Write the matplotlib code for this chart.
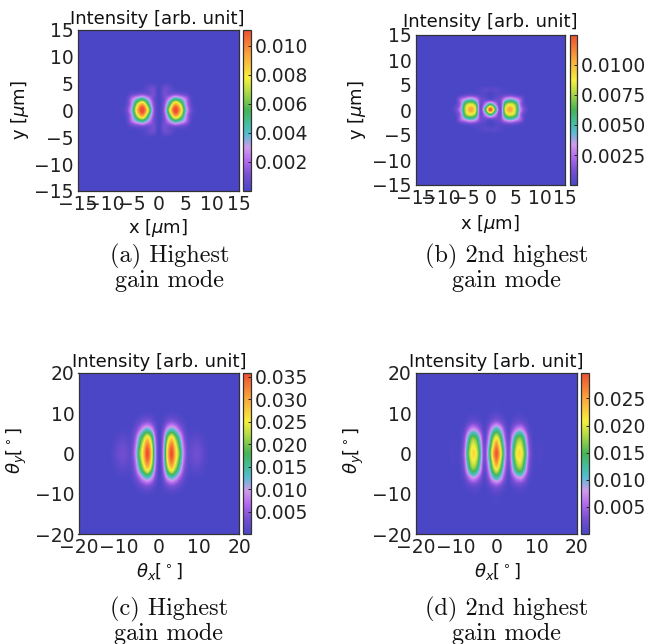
import numpy as np
import matplotlib
matplotlib.use("Agg")
import matplotlib.pyplot as plt
from matplotlib.colors import LinearSegmentedColormap

W, H = 645, 644
SCALE = 1e-4

# Quadrant intensities (units of 1e-4), rows y>=0, cols x>=0
near_highest = [
    [0, 18, 75, 114, 88, 36, 8, 1, 0],
    [0, 14, 55, 95, 72, 28, 5, 0, 0],
    [0, 10, 30, 50, 40, 22, 3, 0, 0],
    [0, 10, 8, 10, 8, 5, 0, 0, 0],
    [0, 8, 6, 1, 0, 0, 0, 0, 0],
    [0, 1, 1, 0, 0, 0, 0, 0, 0],
]
near_second = [
    [124, 60, 10, 85, 105, 78, 30, 8, 0],
    [60, 30, 10, 70, 85, 70, 22, 3, 0],
    [6, 8, 12, 35, 45, 35, 20, 1, 0],
    [0, 3, 4, 6, 7, 5, 2, 0, 0],
    [4, 5, 3, 1, 1, 0, 0, 0, 0],
    [0, 0, 0, 0, 0, 0, 0, 0, 0],
]
far_highest = [
    [0, 90, 270, 360, 275, 190, 80, 22, 22, 30, 26, 14, 4, 0],
    [0, 85, 250, 330, 255, 165, 68, 18, 18, 25, 20, 10, 3, 0],
    [0, 65, 195, 260, 200, 125, 48, 12, 10, 13, 10, 5, 1, 0],
    [0, 35, 100, 130, 105, 60, 24, 5, 3, 3, 3, 1, 0, 0],
    [0, 10, 30, 40, 32, 18, 7, 1, 0, 0, 0, 0, 0, 0],
    [0, 2, 4, 6, 5, 3, 1, 0, 0, 0, 0, 0, 0, 0],
    [0, 0, 0, 0, 0, 0, 0, 0, 0, 0, 0, 0, 0, 0],
]
far_second = [
    [292, 220, 100, 25, 120, 205, 215, 155, 50, 8, 3, 4, 2, 0],
    [265, 190, 85, 22, 105, 185, 200, 135, 42, 6, 3, 3, 1, 0],
    [205, 150, 62, 14, 80, 145, 160, 105, 30, 4, 2, 1, 0, 0],
    [120, 90, 36, 6, 36, 68, 78, 48, 12, 2, 0, 0, 0, 0],
    [38, 28, 11, 2, 9, 17, 18, 11, 3, 0, 0, 0, 0, 0],
    [8, 6, 2, 0, 1, 3, 3, 2, 0, 0, 0, 0, 0, 0],
    [3, 2, 1, 0, 0, 0, 0, 0, 0, 0, 0, 0, 0, 0],
]

near_ticks = [-15, -10, -5, 0, 5, 10, 15]
far_ticks_x = [-20, -10, 0, 10, 20]
far_ticks_y = [-20, -10, 0, 10, 20]
cbar_a = [0.002, 0.004, 0.006, 0.008, 0.010]
cbar_b = [0.0025, 0.0050, 0.0075, 0.0100]
cbar_c = [0.005, 0.010, 0.015, 0.020, 0.025, 0.030, 0.035]
cbar_d = [0.005, 0.010, 0.015, 0.020, 0.025]
captions = [
    "(a) Highest\ngain mode",
    "(b) 2nd highest\ngain mode",
    "(c) Highest\ngain mode",
    "(d) 2nd highest\ngain mode",
]

cmap = LinearSegmentedColormap.from_list("mode", [
    (0.00, "#4a46c6"), (0.10, "#7a50d4"), (0.19, "#b66cf0"), (0.27, "#cf9cec"),
    (0.35, "#58bbd4"), (0.42, "#45bd9c"), (0.50, "#45b455"), (0.62, "#b5dc45"),
    (0.70, "#f8f03c"), (0.85, "#f9a23c"), (1.00, "#ee4f30"),
])

plt.rcParams.update({
    "font.family": "DejaVu Sans", "font.size": 13, "axes.linewidth": 0.9,
    "axes.edgecolor": "#333333", "text.color": "#111111",
    "xtick.color": "#222222", "ytick.color": "#222222",
})

fig = plt.figure(figsize=(W / 100, H / 100), dpi=100)


def pix_axes(x0, x1, y0, y1):
    return fig.add_axes([x0 / W, 1 - y1 / H, (x1 - x0) / W, (y1 - y0) / H])


def unfold(quadrant):
    q = np.array(quadrant, float) * SCALE
    q = np.hstack([q[:, :0:-1], q])
    return np.vstack([q[:0:-1], q])


def panel(grid, dx, dy, lim, box, cbox, vmax, xt, yt, ct, cfmt, xlabel, ylabel,
          title_x, title_y, xl_pos, yl_pos, caption, cap_x, cap_y):
    ax = pix_axes(*box)
    z = unfold(grid)
    nx = (z.shape[1] - 1) // 2
    ny = (z.shape[0] - 1) // 2
    ax.set_facecolor(cmap(0.0))
    im = ax.imshow(z, origin="lower", cmap=cmap, vmin=0, vmax=vmax,
                   interpolation="catrom", aspect="auto",
                   extent=[-(nx + .5) * dx, (nx + .5) * dx,
                           -(ny + .5) * dy, (ny + .5) * dy])
    ax.set_xlim(-lim, lim)
    ax.set_ylim(-lim, lim)
    ax.set_xticks(xt)
    ax.set_yticks(yt)
    ax.tick_params(direction="in", length=0, labelsize=13.5, pad=3)
    cax = pix_axes(*cbox)
    cb = fig.colorbar(im, cax=cax)
    cb.set_ticks(ct)
    cb.set_ticklabels([cfmt % v for v in ct])
    cax.tick_params(direction="in", length=2.5, width=0.7, labelsize=13.5, pad=3)
    fig.text(title_x / W, 1 - title_y / H, "Intensity [arb. unit]", ha="center",
             va="baseline", fontsize=13)
    fig.text(xl_pos[0] / W, 1 - xl_pos[1] / H, xlabel, ha="center", va="center", fontsize=13)
    fig.text(yl_pos[0] / W, 1 - yl_pos[1] / H, ylabel, ha="center", va="center",
             rotation=90, fontsize=13)
    fig.text(cap_x / W, 1 - cap_y / H, caption, ha="center", va="center", family="cmr10",
             fontsize=17.5, linespacing=1.08)


panel(near_highest, 1, 1, 15, (78, 239, 29.5, 191), (243, 251, 29.5, 191), 0.0111,
      near_ticks, near_ticks, cbar_a, "%.3f", r"x [$\mu$m]", r"y [$\mu$m]",
      157.5, 24, (158, 228), (20, 110), captions[0], 169.5, 268)
panel(near_second, 1, 1, 15, (415.5, 565, 35, 185), (569.5, 577, 35, 185), 0.0125,
      near_ticks, near_ticks, cbar_b, "%.4f", r"x [$\mu$m]", r"y [$\mu$m]",
      490, 27, (490, 224), (357, 110), captions[1], 507, 268)
panel(far_highest, 1, 2, 20, (78.5, 239, 373, 534), (242.5, 251, 373, 534), 0.0358,
      far_ticks_x, far_ticks_y, cbar_c, "%.3f", r"$\theta_x[^\circ]$", r"$\theta_y[^\circ]$",
      159, 367, (159, 572), (17, 451), captions[2], 169, 621)
panel(far_second, 1, 2, 20, (416, 577, 373, 534), (580.5, 589, 373, 534), 0.0297,
      far_ticks_x, far_ticks_y, cbar_d, "%.3f", r"$\theta_x[^\circ]$", r"$\theta_y[^\circ]$",
      496, 367, (497, 572), (354, 451), captions[3], 507, 621)

fig.savefig("out.png", dpi=100)
